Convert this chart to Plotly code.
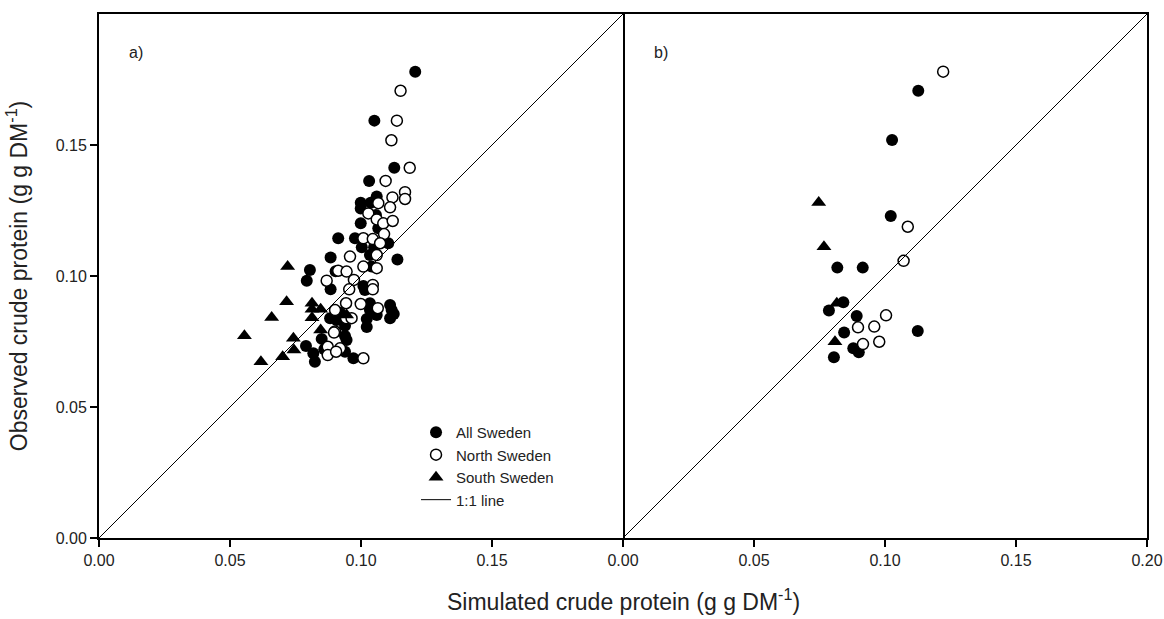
import plotly.graph_objects as go
from plotly.subplots import make_subplots

# ---------------- Panel a) data ----------------
a_all_x = [0.1207, 0.1051, 0.1127, 0.1031, 0.1060, 0.0999, 0.1037, 0.0999, 0.1057, 0.0999,
           0.1066, 0.0913, 0.0977, 0.1104, 0.1003, 0.1050, 0.0884, 0.1034, 0.1139, 0.0805,
           0.0793, 0.0903, 0.1040, 0.0884, 0.1009, 0.1015, 0.1034, 0.1034, 0.1111, 0.1117,
           0.1111, 0.1060, 0.1022, 0.1022, 0.0882, 0.0907, 0.0939, 0.0939, 0.0945, 0.0790,
           0.0818, 0.0824, 0.0939, 0.0971, 0.0850, 0.0920, 0.1125, 0.0860]
a_all_y = [0.1780, 0.1593, 0.1413, 0.1363, 0.1303, 0.1280, 0.1280, 0.1258, 0.1233, 0.1201,
           0.1182, 0.1144, 0.1144, 0.1125, 0.1110, 0.1110, 0.1071, 0.1080, 0.1063, 0.1023,
           0.0982, 0.1018, 0.1036, 0.0949, 0.0962, 0.0947, 0.0896, 0.0870, 0.0889, 0.0870,
           0.0839, 0.0851, 0.0836, 0.0805, 0.0839, 0.0832, 0.0810, 0.0771, 0.0756, 0.0733,
           0.0705, 0.0673, 0.0711, 0.0686, 0.0760, 0.0860, 0.0855, 0.0720]

a_north_x = [0.1151, 0.1137, 0.1116, 0.1186, 0.1094, 0.1168, 0.1168, 0.1120, 0.1066, 0.1111,
             0.1028, 0.1060, 0.1085, 0.1121, 0.1088, 0.1009, 0.1045, 0.1073, 0.0958, 0.1060,
             0.0913, 0.0945, 0.1009, 0.1060, 0.0869, 0.0973, 0.0955, 0.1045, 0.1045, 0.0943,
             0.0999, 0.1064, 0.0901, 0.0943, 0.0964, 0.0901, 0.0873, 0.0873, 0.0920, 0.0905,
             0.1009, 0.0897]
a_north_y = [0.1707, 0.1593, 0.1518, 0.1413, 0.1363, 0.1320, 0.1294, 0.1300, 0.1278, 0.1262,
             0.1239, 0.1216, 0.1201, 0.1210, 0.1160, 0.1144, 0.1141, 0.1125, 0.1074, 0.1080,
             0.1020, 0.1017, 0.1036, 0.1030, 0.0982, 0.0985, 0.0949, 0.0966, 0.0949, 0.0896,
             0.0893, 0.0877, 0.0870, 0.0839, 0.0839, 0.0788, 0.0730, 0.0698, 0.0724, 0.0711,
             0.0686, 0.0784]

a_south_x = [0.0720, 0.0716, 0.0659, 0.0555, 0.0813, 0.0813, 0.0813, 0.0846, 0.0846, 0.0742,
             0.0744, 0.0701, 0.0618, 0.0945]
a_south_y = [0.1036, 0.0902, 0.0842, 0.0772, 0.0896, 0.0873, 0.0841, 0.0873, 0.0794, 0.0762,
             0.0718, 0.0692, 0.0673, 0.0851]

# ---------------- Panel b) data ----------------
b_all_x = [0.1127, 0.1027, 0.1022, 0.0818, 0.0915, 0.0841, 0.0786, 0.0892, 0.0844, 0.1125,
           0.0879, 0.0900, 0.0805]
b_all_y = [0.1707, 0.1519, 0.1229, 0.1032, 0.1032, 0.0900, 0.0868, 0.0847, 0.0784, 0.0790,
           0.0724, 0.0709, 0.0690]

b_north_x = [0.1222, 0.1087, 0.1071, 0.1004, 0.0897, 0.0959, 0.0978, 0.0916]
b_north_y = [0.1780, 0.1188, 0.1058, 0.0850, 0.0804, 0.0807, 0.0749, 0.0740]

b_south_x = [0.0747, 0.0767, 0.0816, 0.0809]
b_south_y = [0.1281, 0.1112, 0.0896, 0.0749]

one_to_one = [0.0, 0.2]
tick_vals = [0.0, 0.05, 0.10, 0.15, 0.20]
tick_text = ["0.00", "0.05", "0.10", "0.15", "0.20"]

FONT = "Liberation Sans, Arial, sans-serif"
TXT = "#222222"

fig = make_subplots(rows=1, cols=2, horizontal_spacing=0.0)

msize = 12
def add_panel(col, ax, ay, nx, ny, sx, sy, legend):
    fig.add_trace(go.Scatter(x=ax, y=ay, mode="markers", name="All Sweden",
                             marker=dict(symbol="circle", size=msize, color="black",
                                         line=dict(width=0)),
                             showlegend=legend), row=1, col=col)
    fig.add_trace(go.Scatter(x=nx, y=ny, mode="markers", name="North Sweden",
                             marker=dict(symbol="circle", size=msize - 1, color="white",
                                         line=dict(width=1.5, color="black")),
                             showlegend=legend), row=1, col=col)
    fig.add_trace(go.Scatter(x=sx, y=sy, mode="markers", name="South Sweden",
                             marker=dict(symbol="triangle-up", size=msize + 1, color="black",
                                         line=dict(width=0)),
                             showlegend=legend), row=1, col=col)
    fig.add_trace(go.Scatter(x=one_to_one, y=one_to_one, mode="lines", name="1:1 line",
                             line=dict(color="black", width=1),
                             showlegend=legend), row=1, col=col)

add_panel(1, a_all_x, a_all_y, a_north_x, a_north_y, a_south_x, a_south_y, True)
add_panel(2, b_all_x, b_all_y, b_north_x, b_north_y, b_south_x, b_south_y, False)

axis_common = dict(range=[0, 0.2], showgrid=False, zeroline=False, showline=True,
                   linecolor="black", linewidth=2, ticks="outside", automargin=False,
                   ticklen=7, tickwidth=1.5, tickcolor="black",
                   tickfont=dict(family=FONT, size=16, color=TXT))

fig.update_xaxes(**axis_common, mirror=True)
fig.update_yaxes(**axis_common)

fig.update_xaxes(tickvals=tick_vals[:4], ticktext=tick_text[:4], domain=[0, 0.5], row=1, col=1)
fig.update_xaxes(tickvals=tick_vals, ticktext=tick_text, domain=[0.5, 1.0], row=1, col=2)
fig.update_yaxes(tickvals=tick_vals[:4], ticktext=tick_text[:4], mirror=True, row=1, col=1)
fig.update_yaxes(showticklabels=False, ticks="", side="right", mirror=False, row=1, col=2)

fig.add_annotation(text="a)", xref="x domain", yref="y domain", x=0.07, y=0.927,
                   showarrow=False, xanchor="center", yanchor="middle",
                   font=dict(family=FONT, size=16, color=TXT))
fig.add_annotation(text="b)", xref="x2 domain", yref="y2 domain", x=0.072, y=0.927,
                   showarrow=False, xanchor="center", yanchor="middle",
                   font=dict(family=FONT, size=16, color=TXT))

fig.add_annotation(text="Simulated crude protein (g g DM<sup>-1</sup>)", xref="paper",
                   yref="paper", x=0.5, y=-0.118, yanchor="middle", showarrow=False,
                   font=dict(family=FONT, size=23, color=TXT))
fig.add_annotation(text="Observed crude protein (g g DM<sup>-1</sup>)", xref="paper",
                   yref="paper", x=-0.078, y=0.5, textangle=-90, showarrow=False,
                   xanchor="center", yanchor="middle",
                   font=dict(family=FONT, size=23, color=TXT))

fig.update_layout(
    width=1164, height=619,
    margin=dict(l=99, r=17, t=14, b=81),
    plot_bgcolor="white", paper_bgcolor="white",
    legend=dict(x=0.3025, y=0.233, xanchor="left", yanchor="top",
                bgcolor="rgba(0,0,0,0)", borderwidth=0, tracegroupgap=0,
                font=dict(family=FONT, size=15, color=TXT), itemwidth=30),
)

fig.write_html("out.html")
